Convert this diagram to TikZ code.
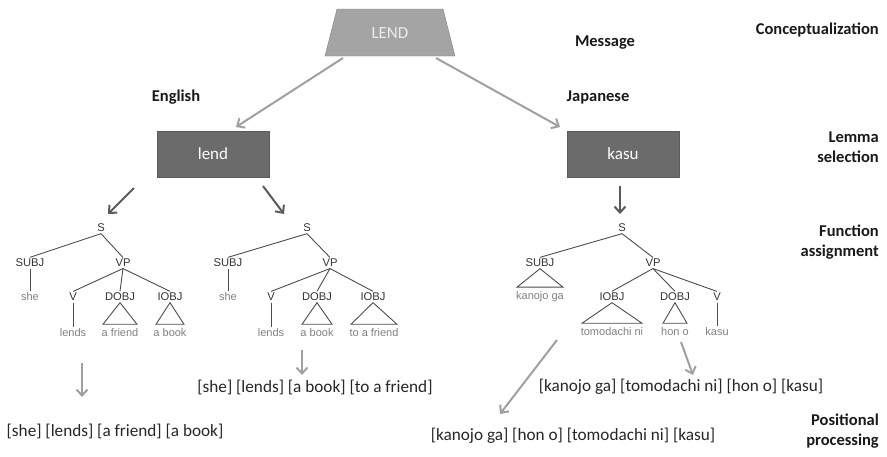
\documentclass[tikz,border=0pt]{standalone}
\usepackage{fontspec}
\setmainfont{Carlito}
\newfontfamily\treefont{Liberation Sans}
\usetikzlibrary{arrows.meta}
\definecolor{trapgray}{HTML}{A4A4A4}
\definecolor{boxgray}{HTML}{6B6B6B}
\definecolor{lightarr}{HTML}{A0A0A0}
\definecolor{darkarr}{HTML}{5A5A5A}
\begin{document}
\begin{tikzpicture}[x=1pt,y=-1pt,
  stage/.style={font=\bfseries\fontsize{16.5}{20}\selectfont, align=right, text=black!90, anchor=east, inner sep=0pt},
  lang/.style={font=\bfseries\fontsize{16.5}{20}\selectfont, text=black!90, inner sep=0pt},
  lemmabox/.style={rectangle, fill=boxgray, draw=boxgray!85!black, minimum width=112, minimum height=46, text=white, font=\fontsize{17}{20}\selectfont},
  cat/.style={font=\treefont\fontsize{11.2}{12}\selectfont, text=black!80, inner sep=1.5pt},
  leaf/.style={font=\treefont\fontsize{11}{12}\selectfont, text=black!50, inner sep=1.5pt},
  edge/.style={draw=black!70, line width=0.9pt},
  lightarrow/.style={draw=lightarr, line width=2pt, -{Straight Barb[length=6pt,width=11pt,line width=2pt]}},
  darkarrow/.style={draw=darkarr, line width=2pt, -{Straight Barb[length=6pt,width=11pt,line width=2pt]}},
  sent/.style={font=\fontsize{17.2}{20}\selectfont, text=black!85, inner sep=0pt}
]
\useasboundingbox (0,0) rectangle (887,456);

% Message
\fill[trapgray, draw=trapgray!80!black] (337,9) -- (443,9) -- (455,56) -- (325,56) -- cycle;
\node[text=white!92!black, font=\fontsize{17}{20}\selectfont, inner sep=0pt] (LEND) at (390,33) {LEND};
\node[lang] (msg) at (605,43) {Message};
\node[stage] (conc) at (879,30) {Conceptualization};

% language labels
\node[lang] (eng) at (176,97) {English};
\node[lang] (jap) at (598,97) {Japanese};

% lemma boxes
\node[lemmabox] (lend) at (213,154) {lend};
\node[lemmabox] (kasu) at (623,154) {kasu};
\node[stage] (lemsel) at (879,147) {Lemma\\selection};

\coordinate (a1s) at (343,58); \coordinate (a1e) at (236,127);
\coordinate (a2s) at (436,58); \coordinate (a2e) at (560,127);
\draw[lightarrow] (a1s) -- (a1e);
\draw[lightarrow] (a2s) -- (a2e);

% arrows to trees
\coordinate (d1s) at (134,188); \coordinate (d1e) at (108,214);
\coordinate (d2s) at (263,186); \coordinate (d2e) at (284,214);
\coordinate (d3s) at (620,186); \coordinate (d3e) at (620,214);
\draw[darkarrow] (d1s) -- (d1e);
\draw[darkarrow] (d2s) -- (d2e);
\draw[darkarrow] (d3s) -- (d3e);

\node[stage] (funass) at (879,242) {Function\\assignment};

% ---------- Tree 1 ----------
\node[cat] (s1) at (101,228) {S};
\node[cat] (subj1) at (30,263) {SUBJ};
\node[cat] (vp1) at (123,263) {VP};
\node[leaf] (she1) at (30,297) {she};
\node[cat] (v1) at (73,297) {V};
\node[cat] (dobj1) at (120,297) {DOBJ};
\node[cat] (iobj1) at (170,297) {IOBJ};
\node[leaf] (lends1) at (73,333) {lends};
\node[leaf] (afr1) at (120,333) {a friend};
\node[leaf] (abk1) at (170,333) {a book};
\draw[edge] (s1.south) -- (subj1.north);
\draw[edge] (s1.south) -- (vp1.north);
\draw[edge] (subj1.south) -- (she1.north);
\draw[edge] (vp1.south) -- (v1.north);
\draw[edge] (vp1.south) -- (dobj1.north);
\draw[edge] (vp1.south) -- (iobj1.north);
\draw[edge] (v1.south) -- (lends1.north);
\draw[edge] (dobj1.south) -- ([xshift=-17,yshift=3]afr1.north) -- ([xshift=17,yshift=3]afr1.north) -- cycle;
\draw[edge] (iobj1.south) -- ([xshift=-14,yshift=3]abk1.north) -- ([xshift=14,yshift=3]abk1.north) -- cycle;

% ---------- Tree 2 ----------
\node[cat] (s2) at (307,228) {S};
\node[cat] (subj2) at (228,263) {SUBJ};
\node[cat] (vp2) at (330,263) {VP};
\node[leaf] (she2) at (228,297) {she};
\node[cat] (v2) at (271,297) {V};
\node[cat] (dobj2) at (317,297) {DOBJ};
\node[cat] (iobj2) at (373,297) {IOBJ};
\node[leaf] (lends2) at (271,333) {lends};
\node[leaf] (abk2) at (317,333) {a book};
\node[leaf] (tafr2) at (374,333) {to a friend};
\draw[edge] (s2.south) -- (subj2.north);
\draw[edge] (s2.south) -- (vp2.north);
\draw[edge] (subj2.south) -- (she2.north);
\draw[edge] (vp2.south) -- (v2.north);
\draw[edge] (vp2.south) -- (dobj2.north);
\draw[edge] (vp2.south) -- (iobj2.north);
\draw[edge] (v2.south) -- (lends2.north);
\draw[edge] (dobj2.south) -- ([xshift=-15,yshift=3]abk2.north) -- ([xshift=15,yshift=3]abk2.north) -- cycle;
\draw[edge] (iobj2.south) -- ([xshift=-23,yshift=3]tafr2.north) -- ([xshift=23,yshift=3]tafr2.north) -- cycle;

% ---------- Tree 3 ----------
\node[cat] (s3) at (622,228) {S};
\node[cat] (subj3) at (540,263) {SUBJ};
\node[cat] (vp3) at (653,263) {VP};
\node[leaf] (kg3) at (540,297) {kanojo ga};
\node[cat] (iobj3) at (612,297) {IOBJ};
\node[cat] (dobj3) at (675,297) {DOBJ};
\node[cat] (v3) at (717,297) {V};
\node[leaf] (tn3) at (612,332) {tomodachi ni};
\node[leaf] (ho3) at (675,332) {hon o};
\node[leaf] (ks3) at (717,332) {kasu};
\draw[edge] (s3.south) -- (subj3.north);
\draw[edge] (s3.south) -- (vp3.north);
\draw[edge] (subj3.south) -- ([xshift=-23,yshift=3]kg3.north) -- ([xshift=23,yshift=3]kg3.north) -- cycle;
\draw[edge] (vp3.south) -- (iobj3.north);
\draw[edge] (vp3.south) -- (dobj3.north);
\draw[edge] (vp3.south) -- (v3.north);
\draw[edge] (iobj3.south) -- ([xshift=-30,yshift=3]tn3.north) -- ([xshift=30,yshift=3]tn3.north) -- cycle;
\draw[edge] (dobj3.south) -- ([xshift=-12,yshift=3]ho3.north) -- ([xshift=12,yshift=3]ho3.north) -- cycle;
\draw[edge] (v3.south) -- (ks3.north);

% ---------- Positional processing ----------
\node[sent] (pe1) at (115,431) {[she] [lends] [a friend] [a book]};
\node[sent] (pe2) at (315,387) {[she] [lends] [a book] [to a friend]};
\node[sent] (pj1) at (681,387) {[kanojo ga] [tomodachi ni] [hon o] [kasu]};
\node[sent] (pj2) at (573,436) {[kanojo ga] [hon o] [tomodachi ni] [kasu]};
\node[stage] (posproc) at (879,431) {Positional\\processing};

\coordinate (b1s) at (82,363); \coordinate (b1e) at (82,397);
\coordinate (b2s) at (302,350); \coordinate (b2e) at (302,375);
\coordinate (b3s) at (557,340); \coordinate (b3e) at (500,414);
\coordinate (b4s) at (681,342); \coordinate (b4e) at (693,375);
\draw[lightarrow] (b1s) -- (b1e);
\draw[lightarrow] (b2s) -- (b2e);
\draw[lightarrow] (b3s) -- (b3e);
\draw[lightarrow] (b4s) -- (b4e);
\end{tikzpicture}
\end{document}
